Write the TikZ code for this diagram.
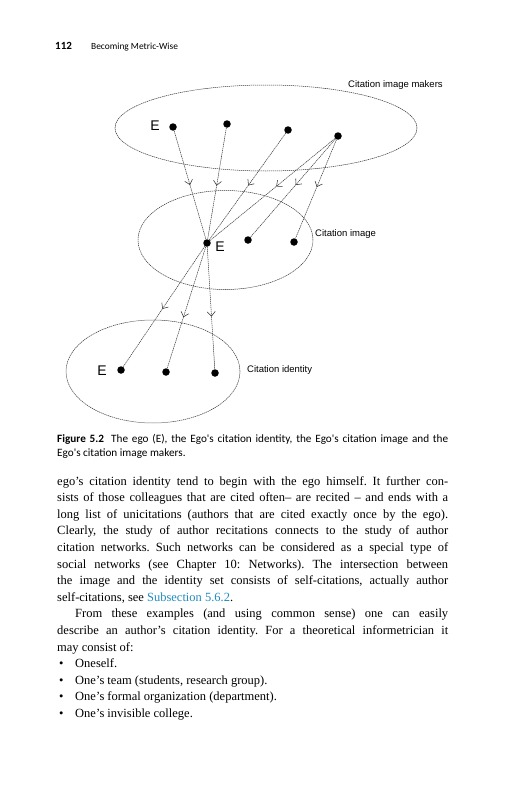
\documentclass[tikz,border=0pt]{standalone}
\usepackage{fontspec}
\setmainfont{Liberation Serif}
\newfontfamily\figfont{Liberation Sans}
\newfontfamily\capfont{Carlito}
\usetikzlibrary{arrows.meta, decorations.markings, shapes.geometric}
\frenchspacing
\tikzset{
  setline/.style={draw=linecol, line width=0.5pt, dash pattern=on 1.3pt off 0.7pt},
  citeline/.style={draw=linecol, line width=0.5pt, dash pattern=on 1.3pt off 0.7pt},
  midtip/.style={postaction={decorate}, decoration={markings,
      mark=at position #1 with {\arrow[linecol, line width=0.55pt]{Straight Barb[length=4.5pt, width=8pt]}}}},
  setshape/.style={ellipse, setline, inner sep=0pt},
  dot/.style={circle, fill=black, inner sep=0pt, minimum size=7.5pt},
  egolabel/.style={font=\figfont\fontsize{14}{14}\selectfont, inner sep=0pt},
  setlabel/.style={font=\figfont\fontsize{9.5}{11}\selectfont, inner sep=0pt, anchor=base west},
  headnum/.style={font=\capfont\bfseries\fontsize{11}{12}\selectfont, inner sep=0pt, anchor=base west},
  headtext/.style={font=\capfont\fontsize{9.4}{12}\selectfont, inner sep=0pt, anchor=base west},
  captext/.style={font=\capfont\fontsize{11.2}{14}\selectfont, inner sep=0pt, anchor=base west,
      text width=391pt, align=justify},
  bodytext/.style={font=\fontsize{12.5}{16.6}\selectfont, inner sep=0pt, anchor=base west,
      text width=391pt, align=justify}
}

\begin{document}
\begin{tikzpicture}[x=1pt, y=-1pt]
  % Page frame, pixel grid with y going down.
  \path[use as bounding box, fill=white] (0,0) rectangle (531,800);

  \colorlet{linecol}{black!80}
  \definecolor{linkcol}{RGB}{35,140,190}

  % Running head.
  \node[headnum] (pagenum) at (55,49.5) {112};
  \node[headtext] (runhead) at (91,49.5) {Becoming Metric-Wise};

  % The three sets.
  \node[setshape, minimum width=302pt, minimum height=86pt] (makers) at (266,128) {};
  \node[setshape, minimum width=175pt, minimum height=99pt] (image) at (225.5,240) {};
  \node[setshape, minimum width=174pt, minimum height=103pt] (identity) at (153,371.5) {};

  \node[setlabel] (makerslabel) at (348,88) {Citation image makers};
  \node[setlabel] (imagelabel) at (315,236.5) {Citation image};
  \node[setlabel] (identitylabel) at (247,372.5) {Citation identity};

  % Authors: makers, image, identity.
  \node[dot] (mk1) at (173,127) {};
  \node[dot] (mk2) at (227,124) {};
  \node[dot] (mk3) at (288,130) {};
  \node[dot] (mk4) at (338,136) {};

  \node[dot] (im1) at (207,243) {};
  \node[dot] (im2) at (248,240) {};
  \node[dot] (im3) at (294,242) {};

  \node[dot] (id1) at (121,370) {};
  \node[dot] (id2) at (166,372) {};
  \node[dot] (id3) at (215,373) {};

  % The ego in each set.
  \node[egolabel] (ego1) at (155,126) {E};
  \node[egolabel] (ego2) at (220,247) {E};
  \node[egolabel] (ego3) at (102,371) {E};

  % Citations from the makers into the image.
  \draw[citeline, midtip=0.5] (mk1) -- (im1);
  \draw[citeline, midtip=0.52] (mk2) -- (im1);
  \draw[citeline, midtip=0.49] (mk3) -- (im1);
  \draw[citeline, midtip=0.47] (mk4) -- (im1);
  \draw[citeline, midtip=0.47] (mk4) -- (im2);
  \draw[citeline, midtip=0.48] (mk4) -- (im3);

  % Citations from the ego into the identity.
  \draw[citeline, midtip=0.52] (im1) -- (id1);
  \draw[citeline, midtip=0.58] (im1) -- (id2);
  \draw[citeline, midtip=0.57] (im1) -- (id3);

  % Caption.
  \node[captext] (caption) at (57,442) {\textbf{Figure 5.2}\hspace{0.3em} The ego (E), the Ego's citation identity, the Ego's citation image and the\linebreak
    Ego's citation image makers.};

  % Running text.
  \node[bodytext] (body) at (57,485) {%
    ego's citation identity tend to begin with the ego himself. It further con-\linebreak
    sists of those colleagues that are cited often-- are recited -- and ends with a\linebreak
    long list of unicitations (authors that are cited exactly once by the ego).\linebreak
    Clearly, the study of author recitations connects to the study of author\linebreak
    citation networks. Such networks can be considered as a special type of\linebreak
    social networks (see Chapter 10: Networks). The intersection between\linebreak
    the image and the identity set consists of self-citations, actually author\linebreak
    self-citations, see \textcolor{linkcol}{Subsection 5.6.2}.\par
    \hspace*{18pt}From these examples (and using common sense) one can easily\linebreak
    describe an author's citation identity. For a theoretical informetrician it\linebreak
    may consist of:\par
    \hspace*{2pt}\makebox[16pt][l]{\textbullet}Oneself.\par
    \hspace*{2pt}\makebox[16pt][l]{\textbullet}One's team (students, research group).\par
    \hspace*{2pt}\makebox[16pt][l]{\textbullet}One's formal organization (department).\par
    \hspace*{2pt}\makebox[16pt][l]{\textbullet}One's invisible college.\par};
\end{tikzpicture}
\end{document}
